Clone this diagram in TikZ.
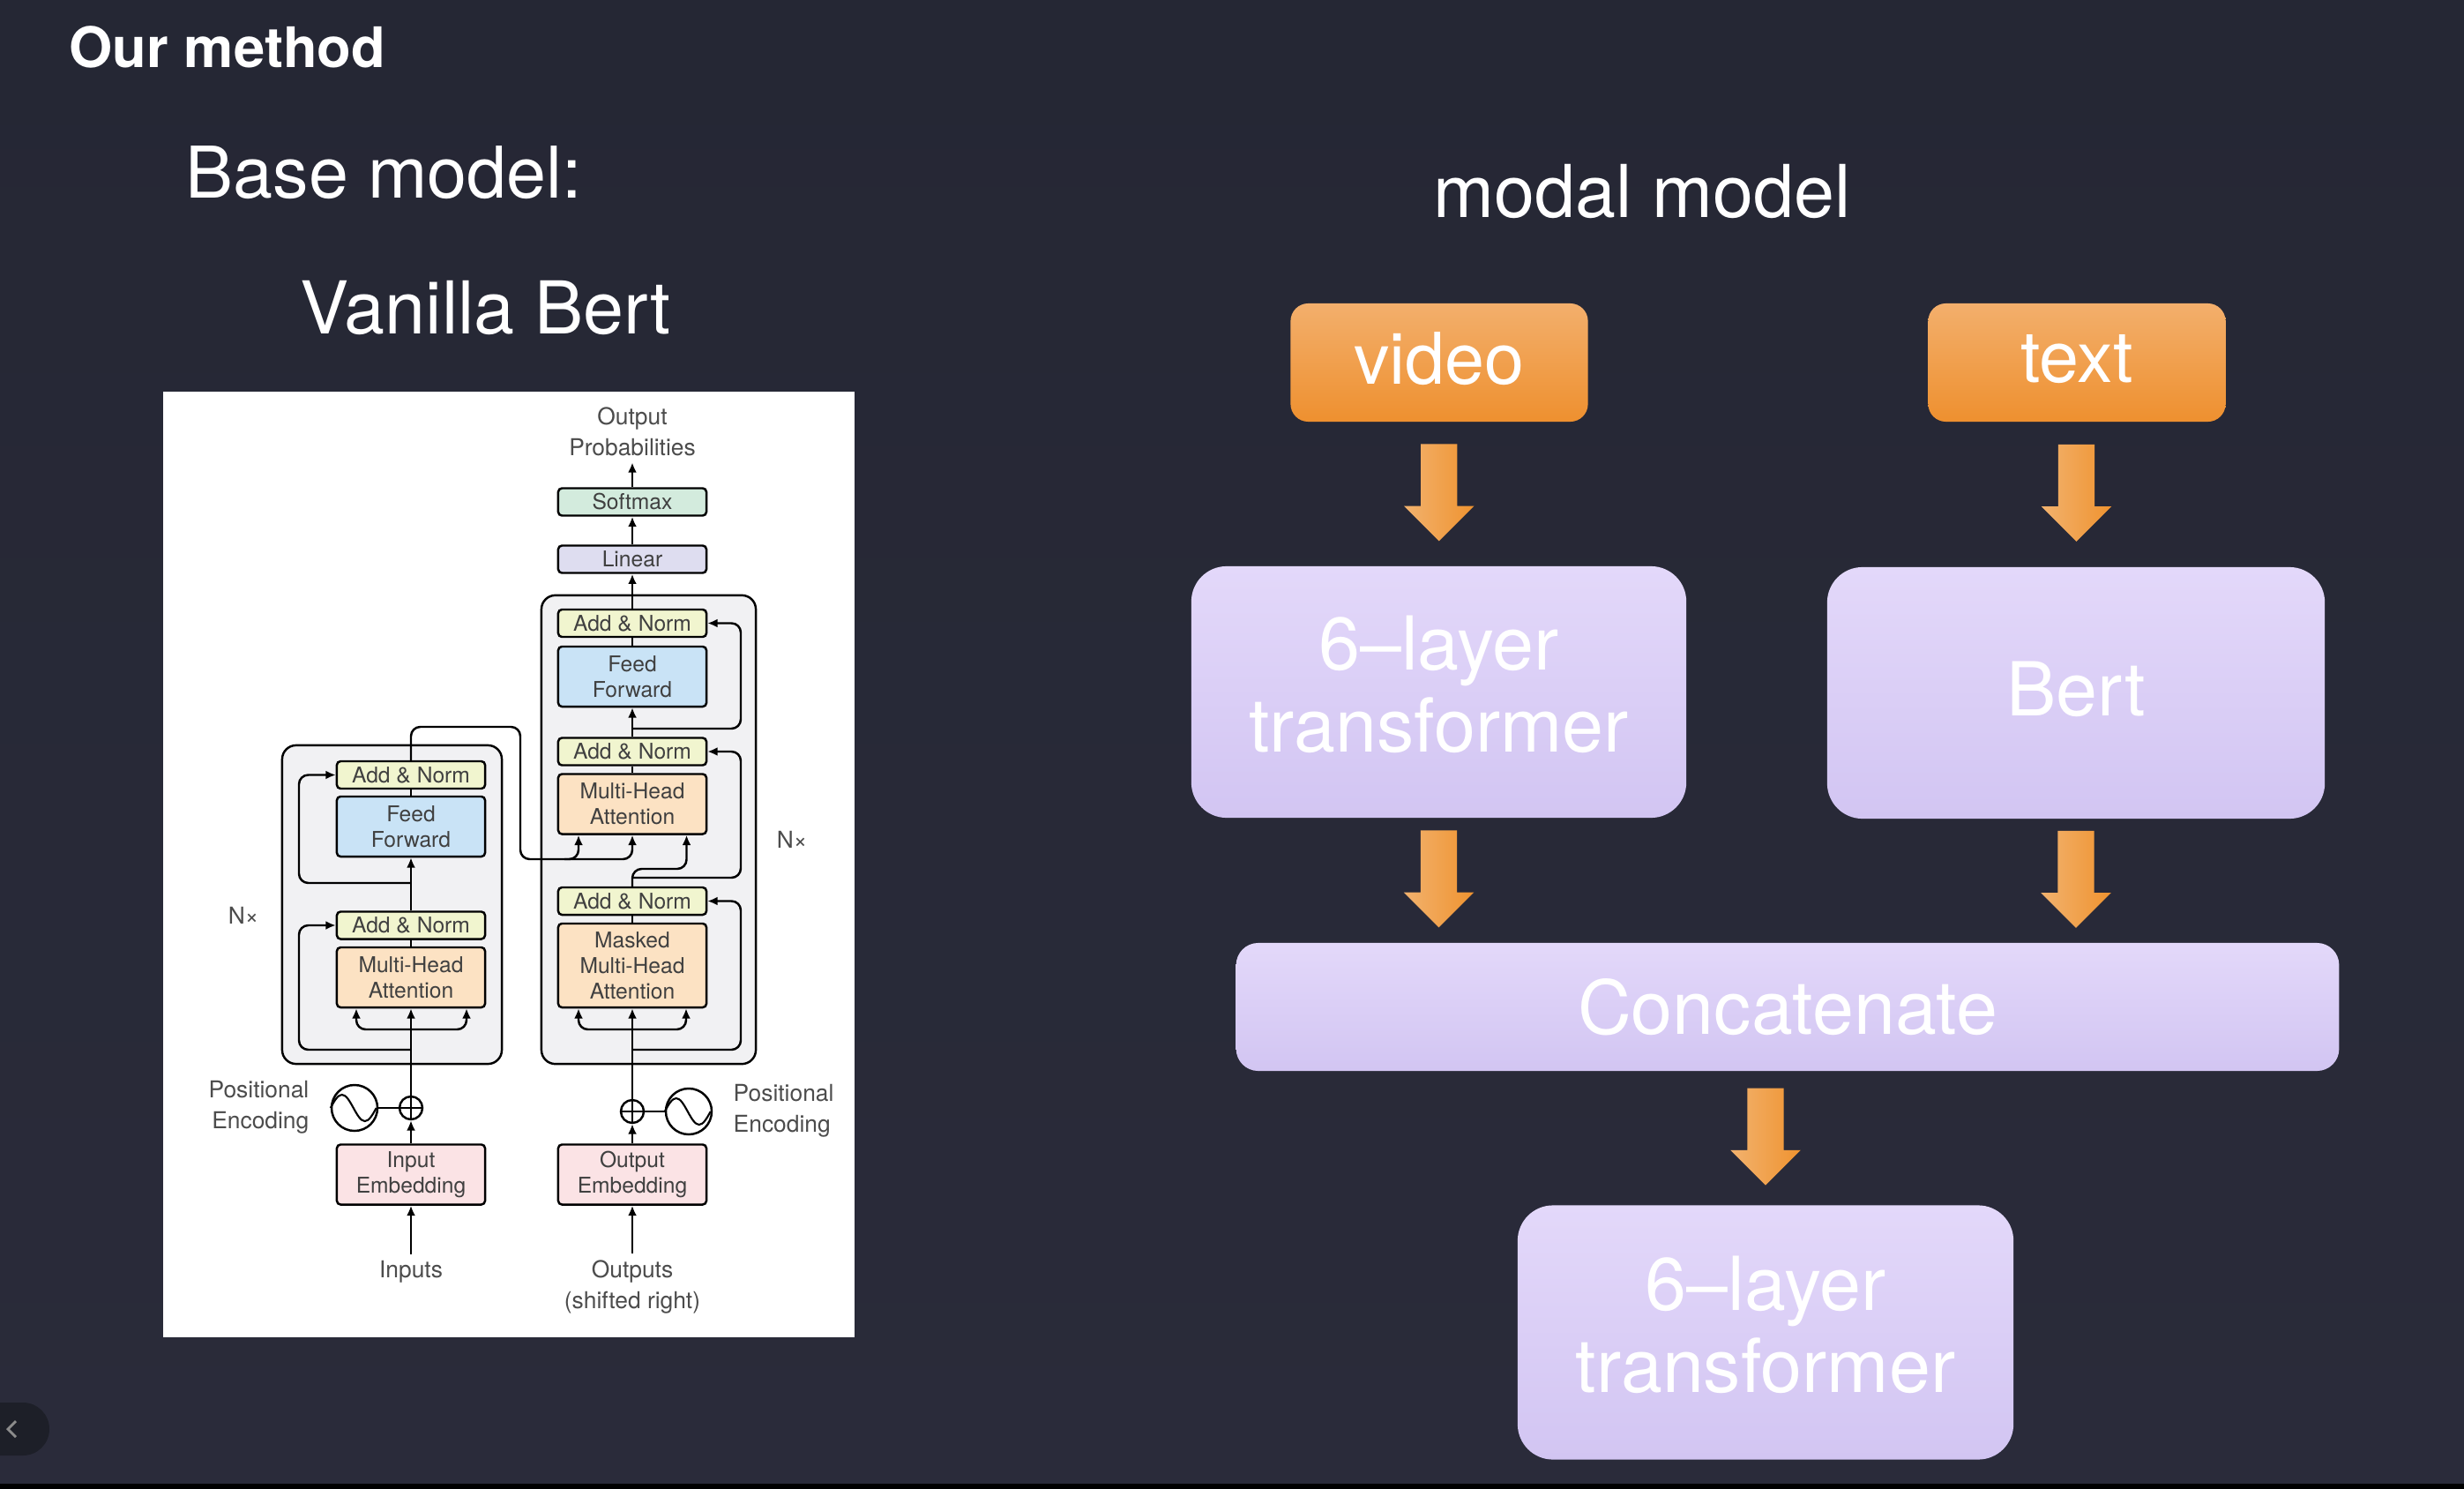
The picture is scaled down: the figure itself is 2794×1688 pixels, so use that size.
\documentclass[tikz,border=0pt]{standalone}
\usepackage{fontspec}
\setmainfont{TeX Gyre Heros}
\usetikzlibrary{arrows.meta,shapes.arrows,calc}

\definecolor{bgtop}{HTML}{252734}
\definecolor{bgbot}{HTML}{2A2B3A}
\definecolor{navbtn}{HTML}{1D1F28}
\definecolor{orangetop}{HTML}{F3AF6C}
\definecolor{orangebot}{HTML}{EE902F}
\definecolor{arrtop}{HTML}{F2B26E}
\definecolor{arrbot}{HTML}{EF9330}
\definecolor{lavtop}{HTML}{E3D8FA}
\definecolor{lavbot}{HTML}{D2C5F2}
\definecolor{blockgrey}{HTML}{F1F1F3}
\definecolor{anfill}{HTML}{F1F5CF}
\definecolor{fffill}{HTML}{C9E3F6}
\definecolor{mhafill}{HTML}{FCE2C3}
\definecolor{softfill}{HTML}{D3EBDD}
\definecolor{linfill}{HTML}{DEDDF0}
\definecolor{embfill}{HTML}{FBE3E5}

\tikzset{
	slidetext/.style={text=white, inner sep=0pt},
	orangebox/.style={rounded corners=0.2cm, top color=orangetop, bottom color=orangebot, text=white, font=\fontsize{23pt}{26pt}\selectfont, minimum width=3.37cm, minimum height=1.34cm, text depth=0.1cm},
	lavbox/.style={rounded corners=0.4cm, top color=lavtop, bottom color=lavbot, text=white, align=center, font=\fontsize{24pt}{26.5pt}\selectfont, minimum width=5.62cm, minimum height=2.86cm},
	bigarrow/.style={yshift=0.12cm, single arrow, rotate=-90, left color=arrtop, right color=arrbot, minimum height=1.1cm, single arrow head extend=0.19cm, single arrow tip angle=90, inner xsep=0pt, inner ysep=0.2cm},
	tfbox/.style={draw=black, line width=0.7pt, rounded corners=1.2pt, minimum width=1.68cm, inner sep=0pt, align=center, font=\fontsize{7pt}{8.2pt}\selectfont, text=black!75},
	tfblock/.style={draw=black, line width=0.7pt, rounded corners=4.5pt, fill=blockgrey, inner sep=0pt},
	tfcirc/.style={circle, draw=black, line width=0.7pt, inner sep=0pt},
	tflabel/.style={font=\fontsize{7.5pt}{10pt}\selectfont, text=black!70, align=center, inner sep=2pt},
	tfline/.style={line width=0.7pt, rounded corners=3pt},
	tfarrow/.style={tfline, -{Latex[length=3.2pt,width=2.8pt]}},
}

\begin{document}
\begin{tikzpicture}[x=0.01cm, y=-0.01cm]
	\useasboundingbox (0,0) rectangle (2794,1688);
	\shade[top color=bgtop, bottom color=bgbot] (0,0) rectangle (2794,1688);
	\fill[black] (0,1682) rectangle (2794,1688);
	\fill[navbtn, rounded corners=0.3cm] (-60,1590) rectangle (56,1650);
	\draw[black!45, line width=0.8pt] (18,1611) -- (9,1620) -- (18,1629);

	% titles
	\node[slidetext, anchor=west, font=\fontsize{18pt}{20pt}\selectfont\bfseries] (ourmethod) at (78,53) {Our method};
	\node[slidetext, anchor=west, font=\fontsize{23pt}{26pt}\selectfont] (basemodel) at (210,196) {Base model:};
	\node[slidetext, anchor=west, font=\fontsize{23.5pt}{26pt}\selectfont] (vanilla) at (340,349) {Vanilla Bert};
	\node[slidetext, font=\fontsize{23.5pt}{26pt}\selectfont] (modal) at (1862,217) {modal model};

	% transformer figure
	\fill[white] (185,444) rectangle (969,1516);
	\node[tfblock, minimum width=2.49cm, minimum height=3.61cm] (encblk) at (444.5,1025.5) {};
	\node[tfblock, minimum width=2.43cm, minimum height=5.31cm] (decblk) at (735.5,940.5) {};

	\node[tfbox, fill=anfill, minimum height=0.31cm] (ean2) at (466,878.5) {Add \& Norm};
	\node[tfbox, fill=fffill, minimum height=0.68cm] (eff) at (466,937) {Feed\\Forward};
	\node[tfbox, fill=anfill, minimum height=0.31cm] (ean1) at (466,1049) {Add \& Norm};
	\node[tfbox, fill=mhafill, minimum height=0.68cm] (emha) at (466,1108) {Multi-Head\\Attention};
	\node[tfcirc, minimum size=0.26cm] (eplus) at (466,1256) {};
	\node[tfcirc, minimum size=0.52cm] (epe) at (402,1256) {};
	\node[tfbox, fill=embfill, minimum height=0.68cm] (iemb) at (466,1331.5) {Input\\Embedding};

	\node[tfbox, fill=softfill, minimum height=0.31cm] (soft) at (717,569) {Softmax};
	\node[tfbox, fill=linfill, minimum height=0.31cm] (lin) at (717,634) {Linear};
	\node[tfbox, fill=anfill, minimum height=0.31cm] (dan3) at (717,706.5) {Add \& Norm};
	\node[tfbox, fill=fffill, minimum height=0.68cm] (dff) at (717,767) {Feed\\Forward};
	\node[tfbox, fill=anfill, minimum height=0.31cm] (dan2) at (717,852) {Add \& Norm};
	\node[tfbox, fill=mhafill, minimum height=0.68cm] (dmha) at (717,911.5) {Multi-Head\\Attention};
	\node[tfbox, fill=anfill, minimum height=0.31cm] (dan1) at (717,1021.5) {Add \& Norm};
	\node[tfbox, fill=mhafill, minimum height=0.95cm] (dmmha) at (717,1094.5) {Masked\\Multi-Head\\Attention};
	\node[tfcirc, minimum size=0.26cm] (dplus) at (717,1260) {};
	\node[tfcirc, minimum size=0.52cm] (dpe) at (781,1260) {};
	\node[tfbox, fill=embfill, minimum height=0.68cm] (oemb) at (717,1331.5) {Output\\Embedding};

	\node[tflabel] (outprob) at (717,489) {Output\\Probabilities};
	\node[tflabel] (inputs) at (466,1442) {Inputs};
	\node[tflabel] (outputs) at (717,1459) {Outputs\\(shifted right)};
	\node[tflabel, anchor=east, align=right] (epetext) at (358,1255) {Positional\\Encoding};
	\node[tflabel, anchor=west, align=left] (dpetext) at (824,1259) {Positional\\Encoding};
	\node[tflabel] (nxl) at (276,1038) {N×};
	\node[tflabel] (nxr) at (898,952) {N×};

	% plus and sine marks
	\foreach \p in {eplus,dplus}
		\draw[line width=0.6pt] (\p.north) -- (\p.south) (\p.west) -- (\p.east);
	\foreach \s in {epe,dpe}
		\draw[line width=0.6pt] (\s.west) sin ++(13,-15) cos ++(13,15) sin ++(13,15) cos ++(13,-15);
	\draw[tfline] (epe) -- (eplus);
	\draw[tfline] (dpe) -- (dplus);

	% encoder
	\draw[tfarrow] (inputs) -- (iemb);
	\draw[tfarrow] (iemb) -- (eplus);
	\draw[tfarrow] (eplus) -- (emha);
	\coordinate (ebr) at (466,1167);
	\draw[tfarrow] (ebr) -| ($(emha.south)+(-62,0)$);
	\draw[tfarrow] (ebr) -| ($(emha.south)+(63,0)$);
	\draw[tfarrow] (466,1190) -- ++(-127,0) |- (ean1.west);
	\draw[tfline] (emha) -- (ean1);
	\draw[tfarrow] (ean1) -- (eff);
	\draw[tfarrow] (466,1001) -- ++(-127,0) |- (ean2.west);
	\draw[tfline] (eff) -- (ean2);

	% encoder to decoder
	\coordinate (xkv) at (640,974);
	\draw[tfarrow] (ean2.north) |- (590,824) -- (590,974) -| ($(dmha.south)+(-61,0)$);
	\draw[tfarrow] (xkv) -| (dmha.south);

	% decoder
	\draw[tfarrow] (outputs) -- (oemb);
	\draw[tfarrow] (oemb) -- (dplus);
	\draw[tfarrow] (dplus) -- (dmmha);
	\coordinate (dbr) at (717,1167);
	\draw[tfarrow] (dbr) -| ($(dmmha.south)+(-61,0)$);
	\draw[tfarrow] (dbr) -| ($(dmmha.south)+(61,0)$);
	\draw[tfarrow] (717,1190) -- ++(123,0) |- (dan1.east);
	\draw[tfline] (dmmha) -- (dan1);
	\draw[tfarrow] (dan1.north) -- (717,985) -| ($(dmha.south)+(61.5,0)$);
	\draw[tfarrow] (717,995) -- ++(123,0) |- (dan2.east);
	\draw[tfline] (dmha) -- (dan2);
	\draw[tfarrow] (dan2) -- (dff);
	\draw[tfarrow] (717,826) -- ++(123,0) |- (dan3.east);
	\draw[tfline] (dff) -- (dan3);
	\draw[tfarrow] (dan3) -- (lin);
	\draw[tfarrow] (lin) -- (soft);
	\draw[tfarrow] (soft) -- (outprob);

	% modal model
	\node[orangebox] (video) at (1632,411) {video};
	\node[orangebox] (txt) at (2355,411) {text};
	\node[lavbox, minimum width=5.61cm, minimum height=2.85cm, text depth=0.18cm] (vidtf) at (1631.5,784.5) {6–layer\\transformer};
	\node[lavbox, minimum width=5.64cm, minimum height=2.85cm, text depth=0.1cm] (bert) at (2354,785.5) {Bert};
	\node[lavbox, rounded corners=0.25cm, minimum width=12.5cm, minimum height=1.45cm] (concat) at (2027,1141.5) {Concatenate};
	\node[lavbox, minimum width=5.62cm, minimum height=2.88cm, text depth=0.18cm] (fusetf) at (2002,1510.5) {6–layer\\transformer};

	\node[bigarrow] (a1) at ($(video.south)!0.5!(vidtf.north)$) {};
	\node[bigarrow] (a2) at ($(txt.south)!0.5!(bert.north)$) {};
	\node[bigarrow] (a3) at ($(vidtf.south)!0.5!(vidtf.south |- concat.north)$) {};
	\node[bigarrow] (a4) at ($(bert.south)!0.5!(bert.south |- concat.north)$) {};
	\node[bigarrow] (a5) at ($(fusetf.north |- concat.south)!0.5!(fusetf.north)$) {};
\end{tikzpicture}
\end{document}
